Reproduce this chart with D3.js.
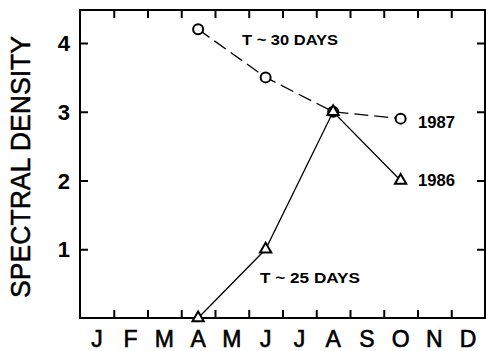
<!DOCTYPE html>
<html>
<head>
<meta charset="utf-8">
<script src="https://cdn.jsdelivr.net/npm/d3@7"></script>
<style>
  body { margin: 0; background: #fff; }
  text { font-family: "Liberation Sans", Arial, sans-serif; fill: #000; }
</style>
</head>
<body>
<div id="chart"></div>
<script>
var months = ['J', 'F', 'M', 'A', 'M', 'J', 'J', 'A', 'S', 'O', 'N', 'D'];
var yTicks = [1, 2, 3, 4];

// month index (0 = Jan) and spectral density
var monthIdx1987 = [3, 5, 7, 9];
var values1987 = [4.2, 3.5, 3.0, 2.9];
var monthIdx1986 = [3, 5, 7, 9];
var values1986 = [0, 1.0, 3.0, 2.0];

var width = 486, height = 351;
var plotLeft = 80, plotRight = 485, plotTop = 10, plotBottom = 318;

var svg = d3.select('#chart')
  .append('svg')
  .attr('width', width)
  .attr('height', height);

var x = d3.scaleLinear().domain([0, 12]).range([plotLeft, plotRight]);
var y = d3.scaleLinear().domain([0, 4.48]).range([plotBottom, plotTop]);

// frame
svg.append('rect')
  .attr('x', plotLeft)
  .attr('y', plotTop)
  .attr('width', plotRight - plotLeft)
  .attr('height', plotBottom - plotTop)
  .attr('fill', 'none')
  .attr('stroke', '#000')
  .attr('stroke-width', 2);

// month ticks, bottom and top, pointing in
var monthTicks = d3.range(1, 12);
var xb = svg.append('g')
  .attr('transform', 'translate(0,' + plotBottom + ')')
  .call(d3.axisBottom(x).tickValues(monthTicks).tickSize(-8).tickFormat(''));
xb.select('.domain').remove();
xb.selectAll('line').attr('stroke-width', 2);

var xt = svg.append('g')
  .attr('transform', 'translate(0,' + plotTop + ')')
  .call(d3.axisTop(x).tickValues(monthTicks).tickSize(-8).tickFormat(''));
xt.select('.domain').remove();
xt.selectAll('line').attr('stroke-width', 2);

// month labels, centred in each month
svg.selectAll('.month')
  .data(months)
  .enter()
  .append('text')
  .attr('class', 'month')
  .attr('x', function (d, i) { return x(i + 0.5); })
  .attr('y', 347)
  .attr('text-anchor', 'middle')
  .attr('font-size', 23)
  .attr('stroke', '#000')
  .attr('stroke-width', 0.6)
  .text(function (d) { return d; });

// y ticks, left and right
var yl = svg.append('g')
  .attr('transform', 'translate(' + plotLeft + ',0)')
  .call(d3.axisLeft(y).tickValues(yTicks).tickSize(-8).tickFormat(''));
yl.select('.domain').remove();
yl.selectAll('line').attr('stroke-width', 2);

var yr = svg.append('g')
  .attr('transform', 'translate(' + plotRight + ',0)')
  .call(d3.axisRight(y).tickValues(yTicks).tickSize(-8).tickFormat(''));
yr.select('.domain').remove();
yr.selectAll('line').attr('stroke-width', 2);

svg.selectAll('.ylab')
  .data(yTicks)
  .enter()
  .append('text')
  .attr('class', 'ylab')
  .attr('x', 70)
  .attr('y', function (d) { return y(d) + 8; })
  .attr('text-anchor', 'end')
  .attr('font-size', 22)
  .attr('font-weight', 'bold')
  .text(function (d) { return d; });

svg.append('text')
  .attr('transform', 'translate(30,167) rotate(-90)')
  .attr('text-anchor', 'middle')
  .attr('font-size', 27)
  .attr('stroke', '#000')
  .attr('stroke-width', 0.5)
  .attr('textLength', 262)
  .attr('lengthAdjust', 'spacingAndGlyphs')
  .text('SPECTRAL DENSITY');

// series
var pts1987 = monthIdx1987.map(function (m, i) { return [m + 0.5, values1987[i]]; });
var pts1986 = monthIdx1986.map(function (m, i) { return [m + 0.5, values1986[i]]; });

var line = d3.line()
  .x(function (d) { return x(d[0]); })
  .y(function (d) { return y(d[1]); });

svg.append('path')
  .attr('d', line(pts1987))
  .attr('fill', 'none')
  .attr('stroke', '#000')
  .attr('stroke-width', 1.3)
  .attr('stroke-dasharray', '14,6');

svg.append('path')
  .attr('d', line(pts1986))
  .attr('fill', 'none')
  .attr('stroke', '#000')
  .attr('stroke-width', 1.3);

svg.selectAll('.c87')
  .data(pts1987)
  .enter()
  .append('circle')
  .attr('cx', function (d) { return x(d[0]); })
  .attr('cy', function (d) { return y(d[1]); })
  .attr('r', 5)
  .attr('fill', '#fff')
  .attr('stroke', '#000')
  .attr('stroke-width', 2);

var tri = d3.symbol().type(d3.symbolTriangle).size(55);
svg.selectAll('.t86')
  .data(pts1986)
  .enter()
  .append('path')
  .attr('d', tri)
  .attr('transform', function (d) { return 'translate(' + x(d[0]) + ',' + y(d[1]) + ')'; })
  .attr('fill', '#fff')
  .attr('stroke', '#000')
  .attr('stroke-width', 2);

// annotations
function note(tx, ty, s, size, len) {
  svg.append('text')
    .attr('x', tx)
    .attr('y', ty)
    .attr('font-size', size)
    .attr('font-weight', 'bold')
    .attr('textLength', len)
    .attr('lengthAdjust', 'spacingAndGlyphs')
    .text(s);
}
note(242, 45, 'T ~ 30 DAYS', 15, 96);
note(260, 283, 'T ~ 25 DAYS', 15, 100);
note(418, 128, '1987', 17, 37);
note(418, 186, '1986', 17, 37);
</script>
</body>
</html>
